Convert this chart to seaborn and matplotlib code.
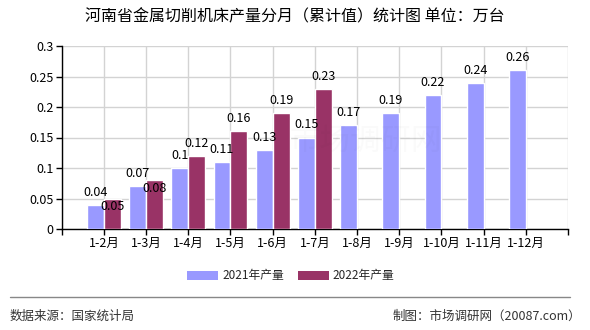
import matplotlib
matplotlib.use("Agg")
import matplotlib.pyplot as plt
import seaborn as sns
import pandas as pd
import numpy as np
from matplotlib.patches import Patch

categories = ["1-2月", "1-3月", "1-4月", "1-5月", "1-6月", "1-7月",
              "1-8月", "1-9月", "1-10月", "1-11月", "1-12月"]
values_2021 = [0.04, 0.07, 0.1, 0.11, 0.13, 0.15, 0.17, 0.19, 0.22, 0.24, 0.26]
values_2022 = [0.05, 0.08, 0.12, 0.16, 0.19, 0.23, None, None, None, None, None]
series_names = ["2021年产量", "2022年产量"]
yticks = [0, 0.05, 0.1, 0.15, 0.2, 0.25, 0.3]
ytick_labels = ["0", "0.05", "0.1", "0.15", "0.2", "0.25", "0.3"]

title = "河南省金属切削机床产量分月（累计值）统计图 单位：万台"
source_left = "数据来源：国家统计局"
source_right = "制图：市场调研网（20087.com）"

colors = {series_names[0]: "#9999FF", series_names[1]: "#993366"}

df = pd.DataFrame({
    "月份": categories * 2,
    "产量": [v for v in values_2021] + [np.nan if v is None else v for v in values_2022],
    "系列": [series_names[0]] * len(categories) + [series_names[1]] * len(categories),
})

sns.set_theme(style="white")
plt.rcParams["font.family"] = ["Noto Sans CJK SC", "DejaVu Sans"]

fig = plt.figure(figsize=(5.9, 3.3), dpi=100)
ax = fig.add_axes([61.7 / 590, 1 - 229 / 330, (568 - 61.7) / 590, (229 - 46) / 330])

order = [""] + categories + [" "]
sns.barplot(data=df, x="月份", y="产量", hue="系列", order=order,
            hue_order=series_names, palette=colors, width=0.8,
            saturation=1, ax=ax, legend=False, zorder=3)

ax.set_xlim(0, len(order) - 1)
ax.set_ylim(0, 0.3)
ax.set_yticks(yticks)
ax.set_yticklabels(ytick_labels, fontsize=9, color="#000000")
ax.set_xticks(range(len(order)))
ax.set_xticklabels(order, fontsize=9, color="#000000")
ax.set_xlabel("")
ax.set_ylabel("")

ax.grid(True, color="#d3d3d3", linewidth=1, zorder=0)
ax.set_axisbelow(True)
for side in ["top", "right"]:
    ax.spines[side].set_visible(False)
for side in ["left", "bottom"]:
    ax.spines[side].set_color("#000000")
    ax.spines[side].set_linewidth(1)
ax.tick_params(axis="both", which="major", direction="out", length=4,
               width=1, color="#000000", pad=2, left=True, bottom=True)

# value labels
label_offsets = {0: [9, 9, 9, 9, 9, 9, 9, 9, 9, 9, 9],
                 1: [-6, -6, 9, 9, 9, 9, 9, 9, 9, 9, 9]}
for si, cont in enumerate(ax.containers):
    vals = values_2021 if si == 0 else values_2022
    for bi, (bar, v) in enumerate(zip(cont.patches, vals)):
        if v is None:
            continue
        ax.annotate(f"{v:g}", (bar.get_x() + bar.get_width() / 2, bar.get_height()),
                    xytext=(0, label_offsets[si][bi]), textcoords="offset points",
                    ha="center", va="center", fontsize=9, color="#000000", zorder=5)

# faint watermark
fig.text(0.62, 0.57, "市场调研网", fontsize=22, color="#000000", alpha=0.02,
         ha="center", va="center", zorder=0)

# title
fig.text(0.5, 1 - 17 / 330, title, fontsize=11.5, ha="center", va="center", color="#000000")

# legend
handles = [Patch(facecolor=colors[n], edgecolor="none") for n in series_names]
fig.legend(handles, series_names, loc="center", bbox_to_anchor=(291 / 590, 1 - 276 / 330),
           ncol=2, frameon=False, fontsize=8.5, handlelength=2.6, handleheight=0.9,
           columnspacing=1.2, handletextpad=0.35)

# footer line and texts
fig.add_artist(plt.Line2D([10 / 590, 570 / 590], [1 - 297 / 330, 1 - 297 / 330],
                          color="#888888", linewidth=1))
fig.text(10 / 590, 1 - 316 / 330, source_left, fontsize=9, ha="left", va="center", color="#333333")
fig.text(581 / 590, 1 - 316 / 330, source_right, fontsize=9, ha="right", va="center", color="#333333")

fig.savefig("out.png", dpi=100)
